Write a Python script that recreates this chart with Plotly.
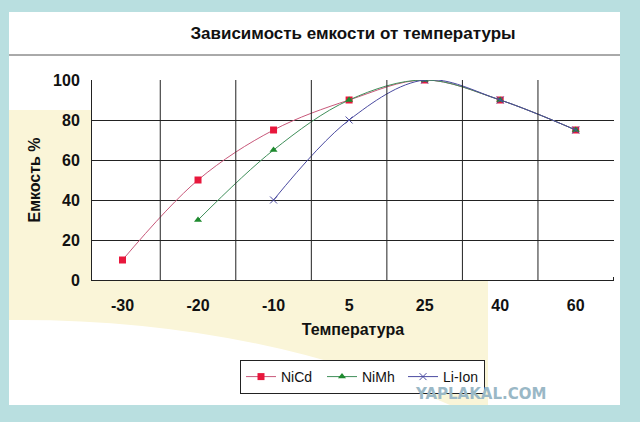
import plotly.graph_objects as go

temps = ['-30', '-20', '-10', '5', '25', '40', '60']
nicd = [10, 50, 75, 90, 100, 90, 75]
nimh = [None, 30, 65, 90, 100, 90, 75]
liion = [None, None, 40, 80, 100, 90, 75]

W, H = 640, 422
L, R, T, B = 92, 26, 80, 142
pw, ph = W - L - R, H - T - B

def px(x): return (x - L) / pw
def py(y): return (H - B - y) / ph

fig = go.Figure()
fig.add_trace(go.Scatter(x=temps, y=nicd, name='NiCd', mode='lines+markers', line=dict(color='#c8587a', width=1, shape='spline'),
                         marker=dict(symbol='square', size=7, color='#e8173c')))
fig.add_trace(go.Scatter(x=temps, y=nimh, name='NiMh', mode='lines+markers', line=dict(color='#3f8f5a', width=1, shape='spline'),
                         marker=dict(symbol='triangle-up', size=7, color='#1e8a2e')))
fig.add_trace(go.Scatter(x=temps, y=liion, name='Li-Ion', mode='lines+markers', line=dict(color='#4a4aa0', width=1, shape='spline'),
                         marker=dict(symbol='x-thin', size=7, color='#4a4aa0', line=dict(width=1, color='#4a4aa0'))))

yel = '#faf5d8'
shapes = [
    dict(type='rect', xref='paper', yref='paper', x0=px(9), x1=px(620), y0=py(405), y1=py(12),
         fillcolor='white', line=dict(width=0), layer='below'),
    dict(type='path', xref='paper', yref='paper', layer='below', fillcolor=yel, line=dict(width=0),
         path=f'M {px(9)},{py(110)} L {px(92)},{py(110)} L {px(92)},{py(280)} L {px(488)},{py(280)} '
              f'L {px(488)},{py(405)} L {px(450)},{py(405)} Q {px(250)},{py(318)} {px(9)},{py(320)} Z'),
    dict(type='line', xref='paper', yref='paper', x0=px(9), x1=px(620), y0=py(55), y1=py(55),
         line=dict(color='#555', width=1)),
]

fig.update_layout(
    width=W, height=H, margin=dict(l=L, r=R, t=T, b=B),
    paper_bgcolor='#b9dfe0', plot_bgcolor='rgba(0,0,0,0)',
    font=dict(family='Liberation Sans, Arial', color='#111'),
    title=dict(text='<b>Зависимость емкости от температуры</b>', x=0.5, xref='paper', y=1 - 33 / H, yanchor='middle',
               font=dict(size=17)),
    xaxis=dict(type='category', showgrid=False, showline=True, linecolor='#222', ticks='', zeroline=False,
               tickfont=dict(size=16), ticklabelstandoff=11,
               title=dict(text='<b>Температура</b>', font=dict(size=16), standoff=10)),
    yaxis=dict(range=[0, 100], dtick=20, showgrid=True, gridcolor='#222', gridwidth=1, showline=True,
               linecolor='#222', zeroline=False, tickfont=dict(size=16), ticks='', ticklabelstandoff=8,
               title=dict(text='<b>Емкость %</b>', font=dict(size=16), standoff=8)),
    legend=dict(orientation='h', x=px(240), y=py(360), xanchor='left', yanchor='top', bordercolor='#222',
                borderwidth=1, bgcolor='white', font=dict(size=14), itemwidth=30,
                entrywidth=36, entrywidthmode='pixels'),
    shapes=shapes,
    annotations=[dict(text='<b>YAPLAKAL.COM</b>', xref='paper', yref='paper', x=px(548), y=py(394), yanchor='middle',
                      showarrow=False, font=dict(size=15, color='#9ab8c6', family='DejaVu Sans'))],
)
# vertical gridlines at category boundaries
for i in range(1, len(temps)):
    fig.add_shape(type='line', xref='x', yref='y', x0=i - 0.5, x1=i - 0.5, y0=0, y1=100, line=dict(color='#222', width=1))
fig.add_shape(type='line', xref='x', yref='y', x0=6.5, x1=6.5, y0=0, y1=1.5, line=dict(color='#222', width=1))

fig.update_xaxes(tickprefix='<b>', ticksuffix='</b>')
fig.update_yaxes(tickprefix='<b>', ticksuffix='</b>')
fig.write_html('out.html', config=dict(displayModeBar=False),
               post_script="document.body.style.margin='0';document.body.style.overflow='hidden';")
